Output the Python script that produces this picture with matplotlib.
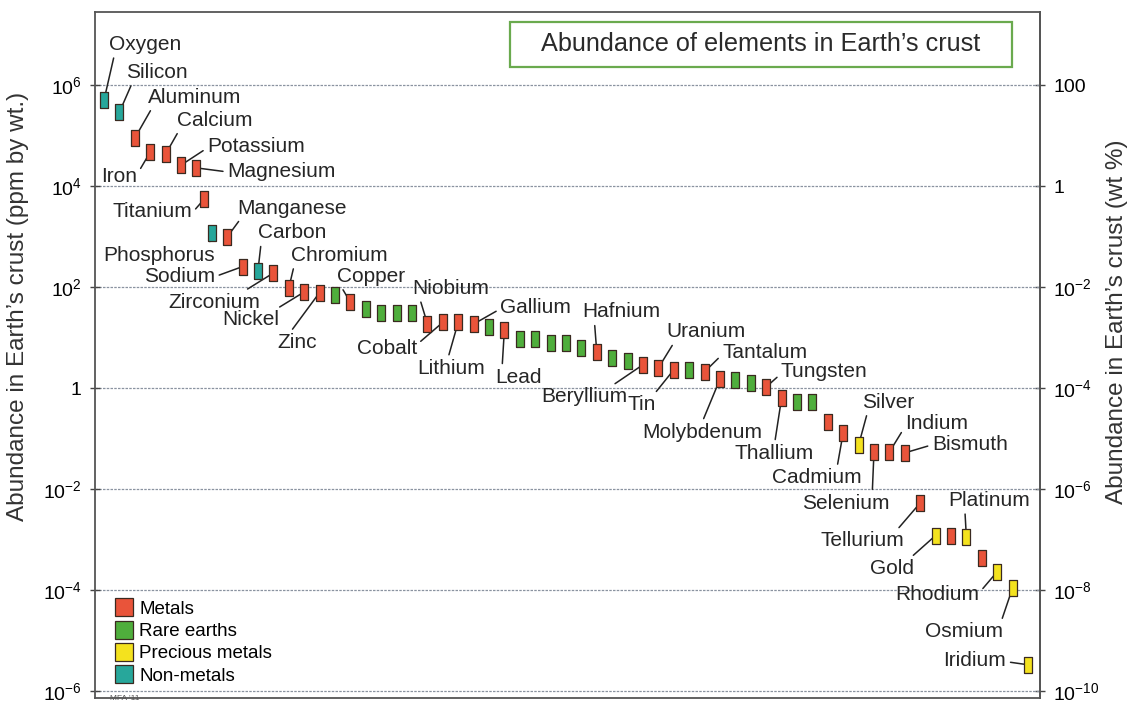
import numpy as np
import matplotlib
matplotlib.use('Agg')
import matplotlib.pyplot as plt
import matplotlib.ticker as mticker
from matplotlib.lines import Line2D
from matplotlib.patches import Rectangle

plt.rcParams['font.family'] = ['Liberation Sans', 'DejaVu Sans']
plt.rcParams['mathtext.fontset'] = 'custom'
plt.rcParams['mathtext.rm'] = 'Liberation Sans'
plt.rcParams['mathtext.default'] = 'regular'

# Elements ordered by abundance (empty name = unlabelled marker)
names = ['Oxygen', 'Silicon', 'Aluminum', 'Iron', 'Calcium', 'Potassium', 'Magnesium',
         'Titanium', 'Phosphorus', 'Manganese', 'Sodium', 'Carbon', 'Zirconium',
         'Chromium', 'Nickel', 'Zinc', '', 'Copper', '', '', '', '',
         'Niobium', 'Cobalt', 'Lithium', 'Gallium', '', 'Lead', '', '', '', '', '',
         'Hafnium', '', '', 'Beryllium', 'Uranium', 'Tin', '', 'Tantalum', 'Molybdenum',
         '', '', 'Tungsten', 'Thallium', '', '', '', 'Cadmium', 'Silver', 'Selenium',
         'Indium', 'Bismuth', 'Tellurium', 'Gold', '', 'Platinum', '', 'Rhodium',
         'Osmium', 'Iridium']
# M = metal, R = rare earth, P = precious metal, N = non-metal
kind = ['N', 'N', 'M', 'M', 'M', 'M', 'M',
        'M', 'N', 'M', 'M', 'N', 'M',
        'M', 'M', 'M', 'R', 'M', 'R', 'R', 'R', 'R',
        'M', 'M', 'M', 'M', 'R', 'M', 'R', 'R', 'R', 'R', 'R',
        'M', 'R', 'R', 'M', 'M', 'M', 'R', 'M', 'M',
        'R', 'R', 'M', 'M', 'R', 'R', 'M', 'M', 'P', 'M',
        'M', 'M', 'M', 'P', 'M', 'P', 'M', 'P',
        'P', 'P']
# abundance in ppm by weight
ppm = [5.0e5, 2.9e5, 8.9e4, 4.7e4, 4.3e4, 2.6e4, 2.3e4,
       5.5e3, 1.17e3, 980, 255, 210, 190,
       95, 80, 78, 70, 50, 37, 31, 31, 31,
       19, 20, 20, 18.5, 16, 14, 9.3, 9.3, 7.8, 7.8, 6.2,
       5.2, 3.9, 3.4, 2.9, 2.5, 2.3, 2.3, 2.1, 1.5,
       1.44, 1.26, 1.05, 0.63, 0.53, 0.53, 0.21, 0.13, 0.074, 0.054,
       0.054, 0.052, 0.0053, 0.0012, 0.0012, 0.0011, 4.3e-4, 2.3e-4,
       1.1e-4, 3.3e-6]
# rank along the x axis (Titanium squeezed in between)
rank = list(range(0, 7)) + [6.5] + list(range(7, 61))

colors = {'M': '#e9543a', 'R': '#4fae3c', 'P': '#f4e21e', 'N': '#27a79b'}
legend_labels = [('M', 'Metals'), ('R', 'Rare earths'), ('P', 'Precious metals'), ('N', 'Non-metals')]

# label placement: offset of text centre from marker (pixels) and leader start on text box
label_pos = {
    'Oxygen': (41, 56, (0.08, 0)), 'Silicon': (38, 40, (0.1, 0)),
    'Aluminum': (60, 41, (0.05, 0)), 'Iron': (-31, -24, (1, 0.6)),
    'Calcium': (49, 34, (0.05, 0.1)), 'Potassium': (75, 19, (0, 0.4)),
    'Magnesium': (85, -4, (0, 0.5)), 'Titanium': (-52, -12, (1, 0.4)),
    'Phosphorus': (-53, -22, (0.95, 1)), 'Manganese': (65, 29, (0.05, 0.1)),
    'Sodium': (-63, -10, (1, 0.5)), 'Carbon': (34, 38, (0.05, 0)),
    'Zirconium': (-59, -29, (0.8, 1)), 'Chromium': (51, 33, (0.03, 0)),
    'Nickel': (-53, -28, (0.9, 1)), 'Zinc': (-22, -50, (0.3, 1)),
    'Copper': (21, 26, (0.05, 0)), 'Niobium': (23, 35, (0.1, 0)),
    'Cobalt': (-56, -26, (1, 0.7)), 'Lithium': (-7, -46, (0.45, 1)),
    'Gallium': (62, 17, (0, 0.4)), 'Lead': (14, -47, (0.15, 1)),
    'Hafnium': (25, 40, (0.15, 0)), 'Beryllium': (-59, -32, (0.8, 1)),
    'Uranium': (48, 36, (0.1, 0)), 'Tin': (-32, -35, (0.85, 0.9)),
    'Tantalum': (60, 19, (0, 0.4)), 'Molybdenum': (-18, -53, (0.5, 1)),
    'Tungsten': (58, 15, (0, 0.4)), 'Thallium': (-7, -55, (0.5, 1)),
    'Cadmium': (-26, -45, (0.72, 1)), 'Silver': (30, 43, (0.1, 0)),
    'Selenium': (-28, -51, (0.8, 1)), 'Indium': (47, 29, (0, 0.3)),
    'Bismuth': (65, 8, (0, 0.5)), 'Tellurium': (-58, -38, (0.9, 1)),
    'Gold': (-44, -33, (0.9, 1)), 'Platinum': (23, 37, (0.2, 0)),
    'Rhodium': (-60, -23, (1, 0.6)), 'Osmium': (-49, -44, (0.97, 0.9)),
    'Iridium': (-53, 4, (1, 0.45)),
}

fig = plt.figure(figsize=(11.3, 7.02), dpi=100)
ax = fig.add_axes([95 / 1130, 1 - 698 / 702, 945 / 1130, 686 / 702])

ax.set_yscale('log')
ax.set_ylim(10 ** -6.14, 10 ** 7.45)
ax.set_xlim(-0.58, 60.78)
ax.set_xticks([])

# rectangular marker
rect = [(-0.28, -0.5), (0.28, -0.5), (0.28, 0.5), (-0.28, 0.5), (-0.28, -0.5)]
for k in colors:
    xs = [r for r, t in zip(rank, kind) if t == k]
    ys = [v for v, t in zip(ppm, kind) if t == k]
    ax.plot(xs, ys, linestyle='none', marker=rect, markersize=11.5,
            markerfacecolor=colors[k], markeredgecolor='#3a2a20', markeredgewidth=0.9, zorder=4)

for r, v, name in zip(rank, ppm, names):
    if not name:
        continue
    dx, dy, rp = label_pos[name]
    ax.annotate(name, xy=(r, v), xytext=(dx, dy), textcoords='offset pixels',
                ha='center', va='center', fontsize=15, color='#262626',
                arrowprops=dict(arrowstyle='-', color='#222222', lw=1.1,
                                shrinkA=1, shrinkB=0, relpos=rp), zorder=3)

# axes styling
yt = [1e-6, 1e-4, 1e-2, 1, 1e2, 1e4, 1e6]
ax.set_yticks(yt)
ax.yaxis.set_minor_locator(mticker.NullLocator())


def log_fmt(v, pos=None):
    e = int(round(np.log10(v)))
    if e == 0:
        return '1'
    return '$10^{%d}$' % e


ax.yaxis.set_major_formatter(mticker.FuncFormatter(log_fmt))
ax.tick_params(axis='y', direction='inout', length=7, width=1, labelsize=14, color='#444444', pad=6)
ax.grid(axis='y', color='#8a93a0', linestyle=(0, (2, 1)), linewidth=0.9)
for s in ax.spines.values():
    s.set_color('#555555')
    s.set_linewidth(1.3)

sec = ax.secondary_yaxis('right', functions=(lambda v: v / 1e4, lambda v: v * 1e4))
sec.set_yticks([1e-10, 1e-8, 1e-6, 1e-4, 1e-2, 1, 1e2])
sec.yaxis.set_minor_locator(mticker.NullLocator())
sec.yaxis.set_major_formatter(mticker.FuncFormatter(
    lambda v, p: '100' if abs(v - 100) < 1 else log_fmt(v, p)))
sec.tick_params(axis='y', direction='inout', length=7, width=1, labelsize=14, color='#444444', pad=6)
sec.spines['right'].set_color('#555555')
sec.spines['right'].set_linewidth(1.3)

fig.text(18 / 1130, 1 - 306 / 702, "Abundance in Earth\u2019s crust (ppm by wt.)", rotation=90,
         ha='center', va='center', fontsize=17.5, color='#333333')
fig.text(1117 / 1130, 1 - 322 / 702, "Abundance in Earth\u2019s crust (wt %)", rotation=90,
         ha='center', va='center', fontsize=17.5, color='#333333')

# title box
ax.add_patch(Rectangle((0.439, 0.920), 0.531, 0.0656, transform=ax.transAxes,
                       facecolor='white', edgecolor='#6aaa4e', linewidth=1.6, zorder=5))
ax.text(0.439 + 0.531 / 2, 0.953, "Abundance of elements in Earth\u2019s crust", transform=ax.transAxes,
        ha='center', va='center', fontsize=18.2, color='#2a2a2a', zorder=6)

# legend
handles = [Line2D([], [], linestyle='none', marker='s', markersize=13, markerfacecolor=colors[k],
                  markeredgecolor='#3a2a20', markeredgewidth=0.9, label=lab) for k, lab in legend_labels]
ax.legend(handles=handles, loc='lower left', bbox_to_anchor=(0.005, 0.0), frameon=False,
          fontsize=13.5, handletextpad=0.2, labelspacing=0.28, handlelength=1.2, borderaxespad=0.3)

fig.text(110 / 1130, 1 - 698 / 702, "MFA '11", fontsize=6, color='#555555', va='center')

fig.savefig('out.png', dpi=100)
